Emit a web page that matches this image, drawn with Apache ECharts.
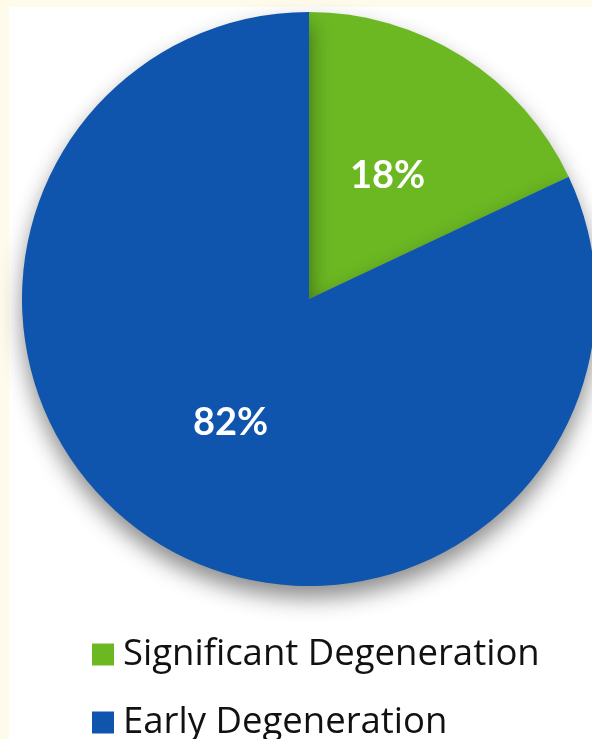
<!DOCTYPE html>
<html>
<head>
<meta charset="utf-8">
<script src="https://cdn.jsdelivr.net/npm/echarts@6/dist/echarts.min.js"></script>
<style>
  html, body { margin: 0; padding: 0; background: #fffbea; }
  #chart { width: 592px; height: 739px; }
</style>
</head>
<body>
<div id="chart"></div>
<script>
// Share of discs by degeneration stage (percent)
const categories = ['Significant Degeneration', 'Early Degeneration'];
const shares = [18, 82];
const sliceColors = ['#6bb823', '#0f55ae'];

const chart = echarts.init(document.getElementById('chart'), null, { renderer: 'canvas' });

// one legend block per category, stacked vertically
const legendTops = [631, 699];
const legends = categories.map((name, i) => ({
  left: 87,
  top: legendTops[i],
  itemWidth: 22,
  itemHeight: 22,
  icon: 'rect',
  data: [name],
  textStyle: {
    fontFamily: 'Open Sans',
    fontSize: 36.5,
    color: '#111111',
    padding: [0, 0, 0, 4]
  }
}));

chart.setOption({
  animation: false,
  backgroundColor: 'transparent',
  graphic: [{
    type: 'rect',
    z: -10,
    shape: { x: 9, y: 7, width: 600, height: 740 },
    style: { fill: '#ffffff' },
    silent: true
  }],
  legend: legends,
  series: [{
    type: 'pie',
    center: [309, 299],
    radius: [0, 287],
    startAngle: 90,
    clockwise: true,
    silent: true,
    itemStyle: {
      shadowBlur: 22,
      shadowOffsetY: 12,
      shadowColor: 'rgba(0,0,0,0.45)'
    },
    label: {
      show: true,
      position: 'inside',
      formatter: p => p.value + '%',
      color: '#ffffff',
      fontFamily: 'Lato',
      fontWeight: 'bold',
      fontSize: 38
    },
    labelLine: { show: false },
    data: categories.map((name, i) => ({
      name: name,
      value: shares[i],
      itemStyle: { color: sliceColors[i] }
    }))
  }]
});
</script>
</body>
</html>
